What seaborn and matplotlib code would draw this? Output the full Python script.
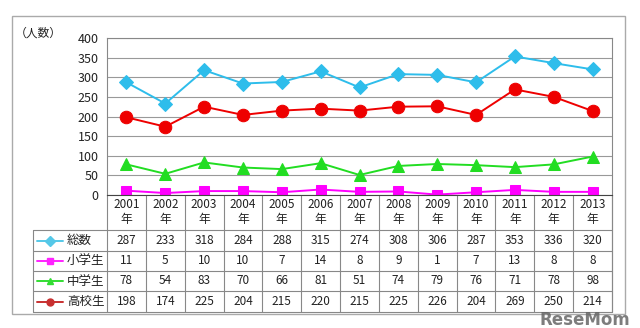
import matplotlib
matplotlib.use("Agg")
import matplotlib.pyplot as plt
from matplotlib.patches import Rectangle
from matplotlib.lines import Line2D
import seaborn as sns
import pandas as pd
import numpy as np

years = ["2001", "2002", "2003", "2004", "2005", "2006", "2007",
         "2008", "2009", "2010", "2011", "2012", "2013"]
series_names = ["総数", "小学生", "中学生", "高校生"]
total = [287, 233, 318, 284, 288, 315, 274, 308, 306, 287, 353, 336, 320]
elementary = [11, 5, 10, 10, 7, 14, 8, 9, 1, 7, 13, 8, 8]
junior_high = [78, 54, 83, 70, 66, 81, 51, 74, 79, 76, 71, 78, 98]
high_school = [198, 174, 225, 204, 215, 220, 215, 225, 226, 204, 269, 250, 214]
y_ticks = [0, 50, 100, 150, 200, 250, 300, 350, 400]

values = [total, elementary, junior_high, high_school]
colors = ["#2EBDEB", "#FF00FF", "#22DD22", "#EE0000"]
legend_colors = ["#55C8E8", "#FF22FF", "#33DD33", "#C83030"]
markers = ["D", "s", "^", "o"]
msizes = [7, 7, 8, 9]

sns.set_theme(style="white")
plt.rcParams["font.family"] = ["Noto Sans CJK JP", "DejaVu Sans"]

W, H = 640, 328
fig = plt.figure(figsize=(W / 100, H / 100), dpi=100)
fig.patch.set_facecolor("white")

# overlay for table / frame in pixel coordinates
ov = fig.add_axes([0, 0, 1, 1])
ov.set_xlim(0, W)
ov.set_ylim(H, 0)
ov.axis("off")

px_left, px_right, px_top, px_bottom = 107, 612, 38, 195
ax = fig.add_axes([px_left / W, 1 - px_bottom / H,
                   (px_right - px_left) / W, (px_bottom - px_top) / H])

rows = []
for name, vals in zip(series_names, values):
    for i, v in enumerate(vals):
        rows.append({"series": name, "idx": i, "value": v})
df = pd.DataFrame(rows)

for name, c, m, ms in zip(series_names, colors, markers, msizes):
    sns.lineplot(data=df[df["series"] == name], x="idx", y="value",
                 color=c, marker=m, markersize=ms, markeredgecolor=c,
                 linewidth=1.4, ax=ax, legend=False)

n = len(years)
ax.set_xlim(-0.5, n - 0.5)
ax.set_ylim(0, 400)
ax.set_yticks(y_ticks)
ax.set_yticklabels([str(t) for t in y_ticks], fontsize=9)
ax.set_xticks([])
ax.set_xlabel("")
ax.set_ylabel("")
ax.grid(axis="y", color="#999999", linewidth=0.8)
ax.set_axisbelow(True)
for s in ax.spines.values():
    s.set_color("#888888")
    s.set_linewidth(0.8)
ax.spines["bottom"].set_color("#444444")
ax.tick_params(axis="y", length=0, pad=6, colors="#222222")
ax.patch.set_alpha(0)

# outer frame
ov.add_patch(Rectangle((12, 16), 613, 298, fill=False, edgecolor="#AAAAAA", lw=1))
ov.text(38, 33, "（人数）", ha="center", va="center", fontsize=8.5, color="#222222")

# table
colw = (px_right - px_left) / n
row_y = [195, 230, 251, 271, 291, 312]
tab_left = 33
lc = "#888888"
for i in range(n + 1):
    x = px_left + i * colw
    ov.plot([x, x], [195, 312], color=lc, lw=0.8)
ov.plot([tab_left, tab_left], [230, 312], color=lc, lw=0.8)
ov.plot([px_right, px_right], [195, 312], color=lc, lw=0.8)
for yy in row_y[1:]:
    ov.plot([tab_left, px_right], [yy, yy], color=lc, lw=0.8)

for i, yr in enumerate(years):
    cx = px_left + (i + 0.5) * colw
    ov.text(cx, 204, yr, ha="center", va="center", fontsize=8.5, color="#222222")
    ov.text(cx, 220, "年", ha="center", va="center", fontsize=8.5, color="#222222")

for r, (name, vals) in enumerate(zip(series_names, values)):
    cy = (row_y[r + 1] + row_y[r + 2]) / 2
    ov.add_line(Line2D([37, 63], [cy, cy], color=legend_colors[r], lw=1.4))
    ov.add_line(Line2D([50], [cy], color=legend_colors[r], marker=markers[r],
                       markersize=5, markeredgecolor=legend_colors[r]))
    ov.text(67, cy, name, ha="left", va="center", fontsize=9, color="#222222")
    for i, v in enumerate(vals):
        cx = px_left + (i + 0.5) * colw
        ov.text(cx, cy, str(v), ha="center", va="center", fontsize=8.5, color="#222222")

# watermark
ov.text(585, 320, "ReseMom", ha="center", va="center", fontsize=12,
        fontweight="bold", color="#666666", alpha=0.85, family="DejaVu Sans")

fig.savefig("out.png", dpi=100, facecolor="white")
